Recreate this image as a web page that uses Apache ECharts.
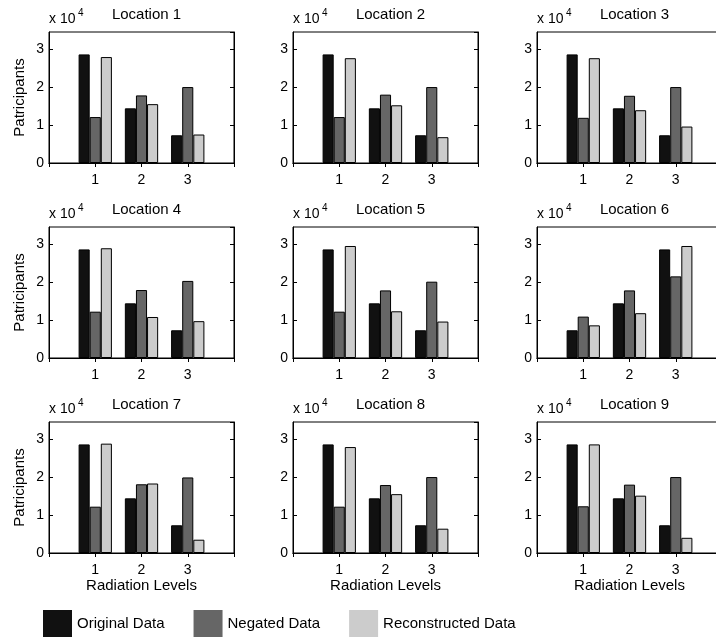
<!DOCTYPE html>
<html>
<head>
<meta charset="utf-8">
<script src="https://cdn.jsdelivr.net/npm/echarts@6/dist/echarts.min.js"></script>
<style>
html,body{margin:0;padding:0;background:#fff;}
#chart{width:716px;height:639px;}
</style>
</head>
<body>
<div id="chart"></div>
<script>
const locations = ['Location 1','Location 2','Location 3','Location 4','Location 5','Location 6','Location 7','Location 8','Location 9'];
const levels = ['1','2','3'];
const seriesNames = ['Original Data','Negated Data','Reconstructed Data'];
const yTicks = [0, 10000, 20000, 30000];
const xAxisName = 'Radiation Levels';
const yAxisName = 'Patricipants';
const exponentLabel = 'x 10';
const exponentPower = '4';

const originalData = [
  [28600,14400,7300],
  [28600,14400,7300],
  [28600,14400,7300],
  [28600,14400,7300],
  [28600,14400,7300],
  [7300,14400,28600],
  [28600,14400,7300],
  [28600,14400,7300],
  [28600,14400,7300]
];
const negatedData = [
  [12100,17800,20000],
  [12100,18000,20000],
  [11900,17700,20000],
  [12200,17900,20300],
  [12200,17800,20100],
  [10900,17800,21500],
  [12200,18100,19900],
  [12200,17900,20000],
  [12300,18000,20000]
];
const reconstructedData = [
  [27900,15500,7500],
  [27600,15200,6800],
  [27600,13900,9600],
  [28900,10800,9700],
  [29500,12300,9600],
  [8600,11800,29500],
  [28800,18300,3500],
  [27900,15500,6400],
  [28600,15100,4000]
];

const colors = ['#111111','#666666','#cccccc'];
const FONT = '"Liberation Sans", Arial, Helvetica, sans-serif';
const colLeft = [49, 293, 537];
const rowTop = [32, 227, 422];
const GW = 185, GH = 131;
const yMax = 34500;

// category axis with padding slots so x range spans 0..4
const xCats = ['0'].concat(levels).concat(['4']);
const pad = arr => [null].concat(arr).concat([null]);

const grid = [], xAxis = [], yAxis = [], series = [], title = [], graphic = [];
const allData = [originalData, negatedData, reconstructedData];

locations.forEach((loc, i) => {
  const r = Math.floor(i / 3), c = i % 3;
  grid.push({left: colLeft[c], top: rowTop[r], width: GW, height: GH, show: true, borderColor: '#000', borderWidth: 1,
    containLabel: false, outerBoundsMode: 'none'});
  const g = i;
  xAxis.push({
    type: 'category', gridIndex: g, data: xCats, boundaryGap: false, position: 'bottom',
    axisLine: {show: true, lineStyle: {color: '#000', width: 1}},
    axisTick: {show: true, inside: true, length: 4, lineStyle: {color: '#000'}, interval: 0},
    axisLabel: {show: true, interval: 0, margin: 10, fontSize: 14, color: '#000', fontFamily: FONT,
      formatter: v => (levels.indexOf(v) >= 0 ? v : '')},
    splitLine: {show: false},
    name: r === 2 ? xAxisName : '', nameLocation: 'middle', nameGap: 21,
    nameTextStyle: {fontSize: 15, color: '#000', fontFamily: FONT}
  });
  xAxis.push({
    type: 'category', gridIndex: g, data: xCats, boundaryGap: false, position: 'top',
    axisLine: {show: true, lineStyle: {color: '#000', width: 1}},
    axisTick: {show: true, inside: true, length: 4, lineStyle: {color: '#000'}, interval: 0},
    axisLabel: {show: false}, splitLine: {show: false}
  });
  yAxis.push({
    type: 'value', gridIndex: g, min: 0, max: yMax, interval: 10000, position: 'left',
    axisLine: {show: true, lineStyle: {color: '#000', width: 1}},
    axisTick: {show: true, inside: true, length: 4, lineStyle: {color: '#000'}},
    axisLabel: {show: true, margin: 5, fontSize: 14, color: '#000', fontFamily: FONT, showMaxLabel: false,
      formatter: v => (yTicks.indexOf(v) >= 0 ? String(v / 10000) : '')},
    splitLine: {show: false},
    name: c === 0 ? yAxisName : '', nameLocation: 'middle', nameGap: 22, nameRotate: 90,
    nameTextStyle: {fontSize: 15, color: '#000', fontFamily: FONT}
  });
  yAxis.push({
    type: 'value', gridIndex: g, min: 0, max: yMax, interval: 10000, position: 'right',
    axisLine: {show: true, lineStyle: {color: '#000', width: 1}},
    axisTick: {show: true, inside: true, length: 4, lineStyle: {color: '#000'}},
    axisLabel: {show: false}, splitLine: {show: false}
  });
  seriesNames.forEach((name, k) => {
    series.push({
      type: 'bar', name: name, xAxisIndex: 2 * g, yAxisIndex: 2 * g,
      data: pad(allData[k][i]),
      barWidth: '24%', barGap: '0%',
      itemStyle: {color: colors[k], borderColor: '#000', borderWidth: 1},
      emphasis: {disabled: true}
    });
  });
  title.push({
    text: loc, left: colLeft[c] + GW / 2, top: rowTop[r] - 30, textAlign: 'center',
    textStyle: {fontSize: 15, fontWeight: 'normal', color: '#000', fontFamily: FONT}
  });
  graphic.push({type: 'text', left: colLeft[c], top: rowTop[r] - 20,
    style: {text: exponentLabel, fontSize: 14, fill: '#000', fontFamily: FONT}});
  graphic.push({type: 'text', left: colLeft[c] + 29, top: rowTop[r] - 24,
    style: {text: exponentPower, fontSize: 10, fill: '#000', fontFamily: FONT}});
});

const chart = echarts.init(document.getElementById('chart'), null, {renderer: 'canvas'});
chart.setOption({
  animation: false,
  backgroundColor: '#fff',
  title: title,
  grid: grid,
  xAxis: xAxis,
  yAxis: yAxis,
  series: series,
  graphic: graphic,
  legend: {
    data: seriesNames, left: 43, top: 610, padding: 0,
    itemWidth: 29, itemHeight: 27, itemGap: 29, icon: 'rect',
    itemStyle: {borderWidth: 0},
    textStyle: {fontSize: 15, color: '#000', fontFamily: FONT}
  }
});
</script>
</body>
</html>
